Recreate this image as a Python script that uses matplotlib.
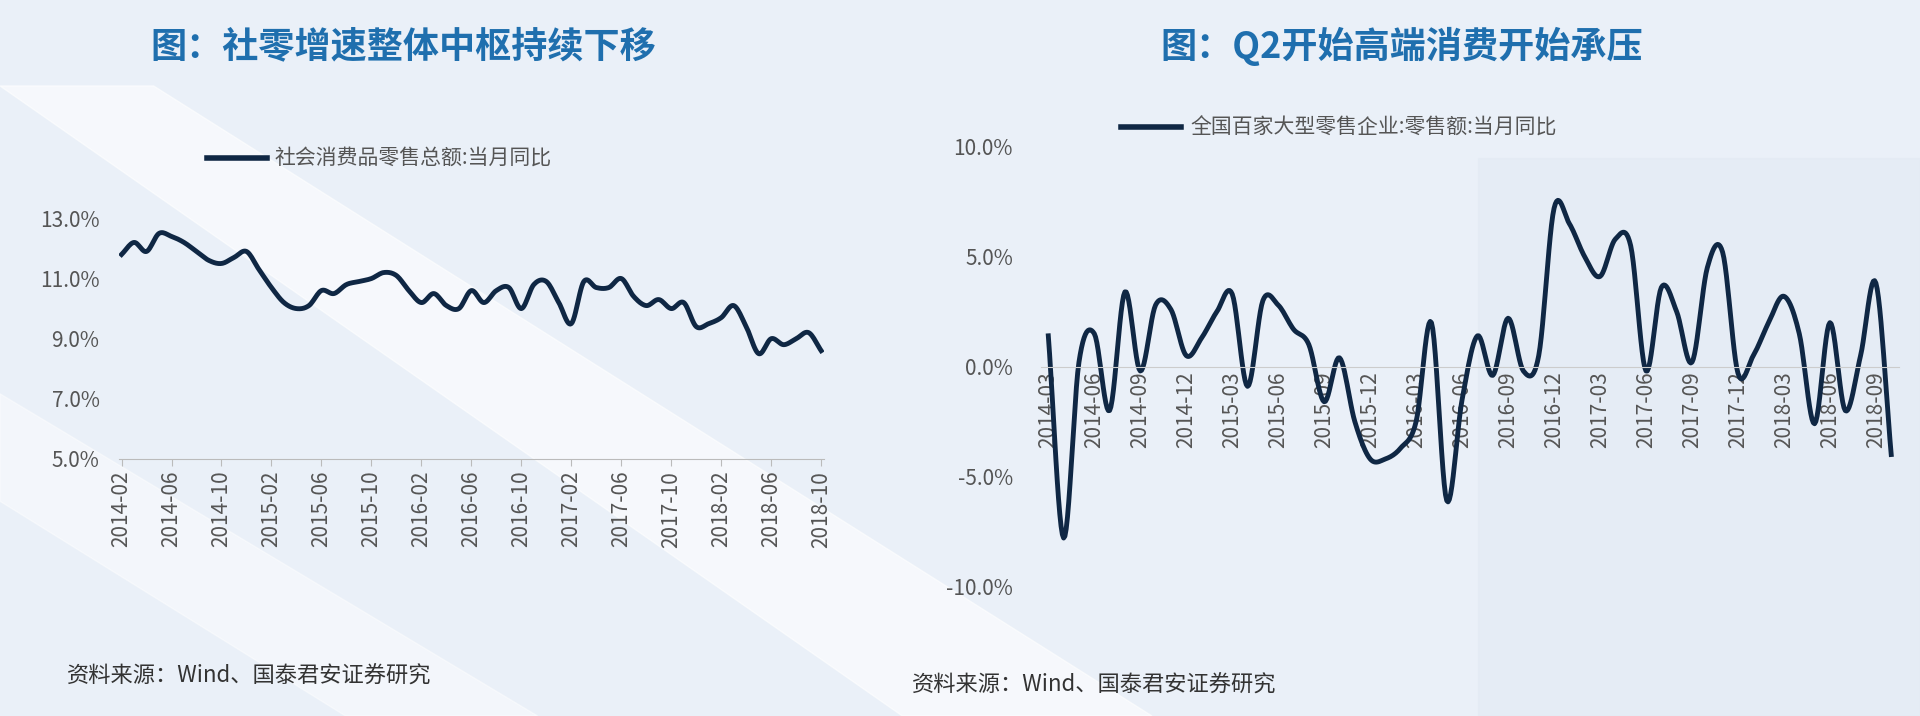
import numpy as np
import matplotlib
matplotlib.use("Agg")
import matplotlib.pyplot as plt
from matplotlib.patches import Polygon

plt.rcParams['font.family'] = ['Noto Sans CJK SC', 'DejaVu Sans']

# Left: retail sales yoy, monthly 2014-02 .. 2018-10
left_months = [f"{y}-{m:02d}" for y in range(2014, 2019) for m in range(1, 13)]
left_months = left_months[1:left_months.index("2018-10") + 1]
left_vals = [11.8, 12.2, 11.9, 12.5, 12.4, 12.2, 11.9, 11.6, 11.5, 11.7, 11.9,
             11.3, 10.7, 10.2, 10.0, 10.1, 10.6, 10.5, 10.8, 10.9, 11.0, 11.2, 11.1,
             10.6, 10.2, 10.5, 10.1, 10.0, 10.6, 10.2, 10.6, 10.7, 10.0, 10.8, 10.9,
             10.2, 9.5, 10.9, 10.7, 10.7, 11.0, 10.4, 10.1, 10.3, 10.0, 10.2, 9.4,
             9.5, 9.7, 10.1, 9.4, 8.5, 9.0, 8.8, 9.0, 9.2, 8.6]
left_ticks = left_months[::4]

# Right: top-100 department stores sales yoy, 2014-03 .. 2018-10
right_months = [f"{y}-{m:02d}" for y in range(2014, 2019) for m in range(1, 13)]
right_months = right_months[2:right_months.index("2018-10") + 1]
right_vals = [1.4, -7.8, 0.2, 1.5, -2.0, 3.4, -0.2, 2.8, 2.6, 0.5,
              1.3, 2.5, 3.3, -0.9, 3.0, 2.8, 1.7, 1.0, -1.6, 0.4, -2.5, -4.2,
              -4.2, -3.7, -2.5, 2.0, -6.1, -1.5, 1.4, -0.4, 2.2, -0.2, 0.5, 7.2,
              6.5, 5.0, 4.1, 5.8, 5.5, -0.2, 3.6, 2.5, 0.2, 4.5, 5.2, -0.3,
              0.5, 2.0, 3.2, 1.5, -2.6, 2.0, -2.0, 0.5, 3.8, -4.0]
right_ticks = right_months[::3]

def smooth(y, n=12):
    y = np.asarray(y, float)
    p = np.concatenate([[2*y[0]-y[1]], y, [2*y[-1]-y[-2]]])
    xs, ys = [], []
    for i in range(1, len(p) - 2):
        t = np.linspace(0, 1, n, endpoint=False)
        p0, p1, p2, p3 = p[i-1], p[i], p[i+1], p[i+2]
        v = 0.5*((2*p1) + (-p0+p2)*t + (2*p0-5*p1+4*p2-p3)*t**2 + (-p0+3*p1-3*p2+p3)*t**3)
        xs.append(i-1+t); ys.append(v)
    xs.append([len(y)-1]); ys.append([y[-1]])
    return np.concatenate(xs), np.concatenate(ys)

fig = plt.figure(figsize=(19.2, 7.16), dpi=100)
fig.patch.set_facecolor('#eaf0f8')
bg = fig.add_axes([0, 0, 1, 1], zorder=-10)
bg.set_xlim(0, 1); bg.set_ylim(0, 1); bg.axis('off')
bg.add_patch(Polygon([[0.0, 0.88], [0.08, 0.88], [0.60, 0.0], [0.47, 0.0]], closed=True, color='white', alpha=0.6))
bg.add_patch(Polygon([[0.0, 0.45], [0.0, 0.3], [0.18, 0.0], [0.28, 0.0]], closed=True, color='white', alpha=0.45))
bg.add_patch(Polygon([[0.77, 0.78], [1, 0.78], [1, 0], [0.77, 0]], closed=True, color='#e3eaf4', alpha=0.6))

line_c = '#0f2744'
title_c = '#1f6fae'
txt_c = '#555555'

# Left axes
ax1 = fig.add_axes([0.062, 0.359, 0.367, 0.357])
ax1.patch.set_alpha(0)
xs, ys = smooth(left_vals)
ax1.plot(xs, ys, color=line_c, lw=3.5)
ax1.set_ylim(5, 13.5)
ax1.set_yticks([5, 7, 9, 11, 13])
ax1.set_yticklabels([f"{v:.1f}%" for v in [5, 7, 9, 11, 13]], fontsize=15, color=txt_c)
ax1.set_xlim(-0.2, len(left_vals) - 0.8)
ax1.set_xticks([left_months.index(t) for t in left_ticks])
ax1.set_xticklabels(left_ticks, fontsize=15, color=txt_c)
plt.setp(ax1.get_xticklabels(), rotation=90)
for s in ['top', 'right', 'left']:
    ax1.spines[s].set_visible(False)
ax1.spines['bottom'].set_color('#bbbbbb')
ax1.tick_params(axis='y', length=0, pad=14)
ax1.tick_params(axis='x', length=5, color='#bbbbbb')
fig.text(0.143, 0.78, '社会消费品零售总额:当月同比', fontsize=15, color=txt_c, va='center')
fig.add_artist(plt.Line2D([0.108, 0.139], [0.78, 0.78], color=line_c, lw=4))
fig.text(0.21, 0.935, '图：社零增速整体中枢持续下移', fontsize=26, color=title_c, weight='bold', ha='center', va='center')
fig.text(0.035, 0.055, '资料来源：Wind、国泰君安证券研究', fontsize=16, color='#333333', va='center')

# Right axes
ax2 = fig.add_axes([0.542, 0.181, 0.447, 0.614])
ax2.patch.set_alpha(0)
xs, ys = smooth(right_vals)
ax2.plot(xs, ys, color=line_c, lw=3.5)
ax2.set_ylim(-10, 10)
ax2.set_yticks([-10, -5, 0, 5, 10])
ax2.set_yticklabels([f"{v:.1f}%" for v in [-10, -5, 0, 5, 10]], fontsize=15, color=txt_c)
ax2.set_xlim(-0.5, len(right_vals) - 0.5)
ax2.spines['bottom'].set_position(('data', 0))
ax2.set_xticks([right_months.index(t) for t in right_ticks])
ax2.set_xticklabels(right_ticks, fontsize=15, color=txt_c)
plt.setp(ax2.get_xticklabels(), rotation=90)
for s in ['top', 'right', 'left']:
    ax2.spines[s].set_visible(False)
ax2.spines['bottom'].set_color('#cccccc')
ax2.tick_params(axis='y', length=0, pad=20)
ax2.tick_params(axis='x', length=0)
fig.text(0.62, 0.822, '全国百家大型零售企业:零售额:当月同比', fontsize=15, color=txt_c, va='center')
fig.add_artist(plt.Line2D([0.584, 0.615], [0.822, 0.822], color=line_c, lw=4))
fig.text(0.73, 0.935, '图：Q2开始高端消费开始承压', fontsize=26, color=title_c, weight='bold', ha='center', va='center')
fig.text(0.475, 0.043, '资料来源：Wind、国泰君安证券研究', fontsize=16, color='#333333', va='center')

fig.savefig('out.png', dpi=100, facecolor=fig.get_facecolor())
